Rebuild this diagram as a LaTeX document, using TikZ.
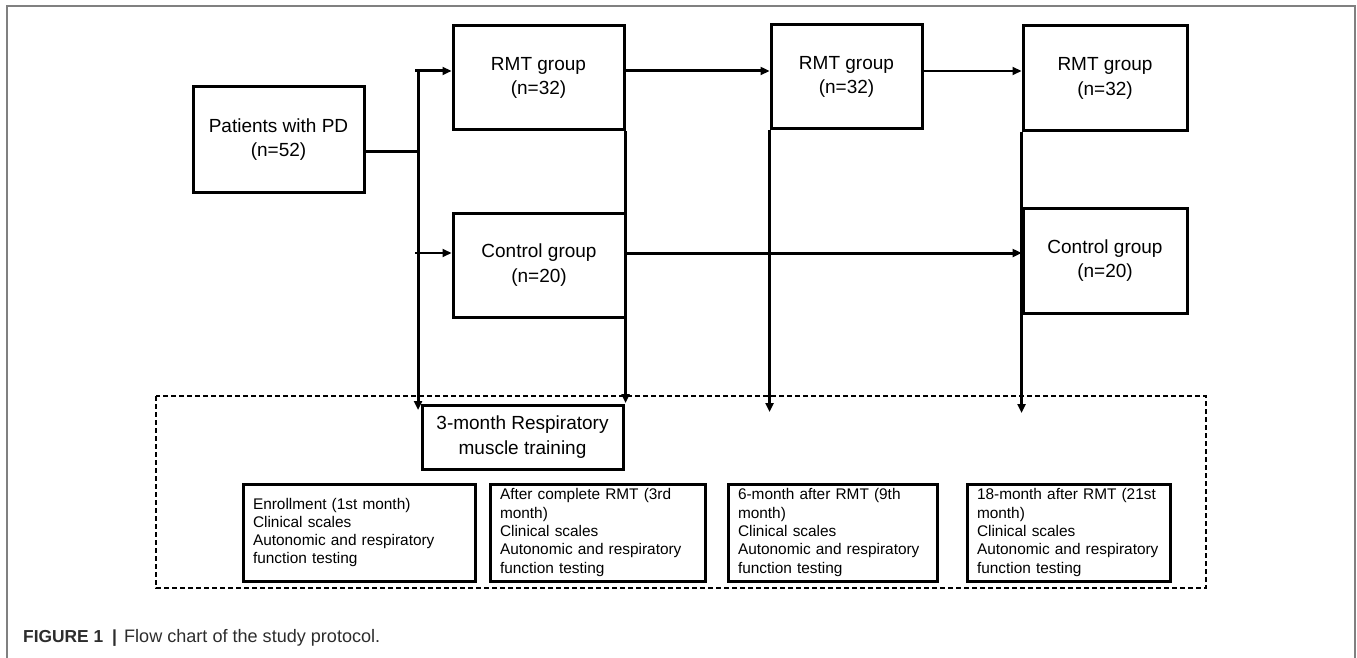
\documentclass[tikz,border=0pt]{standalone}
\usepackage{fontspec}
\setmainfont{Liberation Sans}
\usetikzlibrary{arrows.meta}
\begin{document}
\begin{tikzpicture}[x=1pt,y=-1pt,
  box/.style={draw, line width=3pt, inner sep=0pt, align=center, font=\fontsize{19}{24.5}\selectfont},
  sbox/.style={draw, line width=3pt, inner xsep=10pt, inner ysep=0pt, align=left, minimum height=97pt, font=\fontsize{15.4}{18.3}\selectfont, execute at begin node={\hyphenpenalty=10000}},
  arr/.style={line width=3pt, -{Triangle[length=9pt,width=8pt]}},
  tarr/.style={line width=2pt, -{Triangle[length=9pt,width=8pt]}},
  ln/.style={line width=3pt},
  frame/.style={draw=gray, line width=1.5pt},
  dbox/.style={draw, line width=1.5pt, dash pattern=on 5pt off 3pt},
  captext/.style={anchor=base west, inner sep=0pt, text={rgb,255:red,45;green,45;blue,45}}
]
\useasboundingbox (0,0) rectangle (1357,658);
\draw[frame] (7,658) -- (7,6) -- (1355,6) -- (1355,658);

% dashed region
\draw[dbox] (156,396) rectangle (1206,588);

% boxes
\node[box, minimum width=171pt, minimum height=105pt] (pat) at (278.5,139.5) {Patients with PD\\(n=52)};
\node[box, minimum width=171pt, minimum height=104pt] (rmt1) at (538.5,78) {RMT group\\(n=32)};
\node[box, minimum width=172pt, minimum height=104pt] (ctl1) at (539,265) {Control group\\(n=20)};
\node[box, minimum width=151pt, minimum height=104pt] (rmt2) at (846.5,77) {RMT group\\(n=32)};
\node[box, minimum width=164pt, minimum height=105pt] (rmt3) at (1105,78.5) {RMT group\\(n=32)};
\node[box, minimum width=164pt, minimum height=105pt] (ctl3) at (1105,260.5) {Control group\\(n=20)};
\node[box, minimum width=201pt, minimum height=64pt] (train) at (522.5,437) {3-month Respiratory\\muscle training};

\node[sbox, text width=212pt, minimum width=232pt] (e1) at (359,532.5) {Enrollment (1st month)\\Clinical scales\\Autonomic and respiratory\\function testing};
\node[sbox, text width=195pt, minimum width=215pt] (e2) at (597.5,532.5) {After complete RMT (3rd\\month)\\Clinical scales\\Autonomic and respiratory\\function testing};
\node[sbox, text width=189pt, minimum width=209pt] (e3) at (832.5,532.5) {6-month after RMT (9th\\month)\\Clinical scales\\Autonomic and respiratory\\function testing};
\node[sbox, text width=183pt, minimum width=203pt] (e4) at (1068.5,532.5) {18-month after RMT (21st\\month)\\Clinical scales\\Autonomic and respiratory\\function testing};

% coordinates
\coordinate (j1) at (418,152);
\coordinate (trTop) at (418,72);
\coordinate (trEnd) at (418,410);
\coordinate (a1) at (415,71);
\coordinate (c1) at (415,253);
\coordinate (d2) at (625,403);
\coordinate (d3) at (771,412);
\coordinate (d4) at (1023,413);

% connectors
\draw[ln] (pat.east |- j1) -- (j1);
\draw[arr] (trTop) -- (trEnd);
\draw[arr] (a1) -- (a1 -| rmt1.west);
\draw[tarr] (c1) -- (c1 -| ctl1.west);
\draw[arr] (rmt1.east |- a1) -- (rmt2.west |- a1);
\draw[tarr] (rmt2.east |- a1) -- (rmt3.west |- a1);
\draw[arr] (ctl1.east |- c1) -- (ctl3.west |- c1);
\draw[arr] (rmt1.south east) -- (rmt1.south east |- d2);
\draw[arr] (rmt2.south west) -- (rmt2.south west |- d3);
\draw[arr] (rmt3.south west) -- (rmt3.south west |- d4);

% caption
\node[captext] (capA) at (23,642) {\resizebox{80pt}{!}{\fontsize{17.5}{20}\selectfont\textbf{FIGURE 1}}};
\node[captext] (capB) at (112,642) {\fontsize{17.5}{20}\selectfont\textbf{|}};
\node[captext] (capC) at (124,642) {\resizebox{256pt}{!}{\fontsize{18}{20}\selectfont Flow chart of the study protocol.}};
\end{tikzpicture}
\end{document}
